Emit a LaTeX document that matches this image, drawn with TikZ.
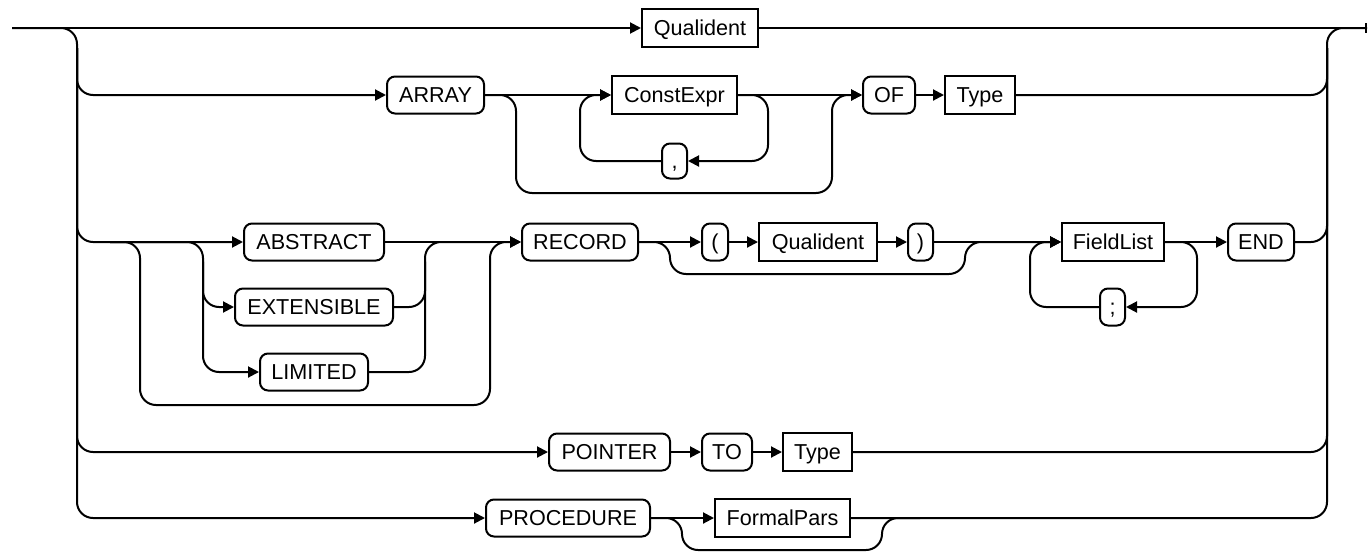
\documentclass[tikz,border=0pt]{standalone}
\usepackage{fontspec}
\setmainfont{Liberation Sans}
\usetikzlibrary{arrows.meta, positioning}

\begin{document}
\begin{tikzpicture}[
        x=0.5pt, y=-0.5pt,
        line width=1pt,
        keyword/.style={rectangle, rounded corners=4pt, draw=black, minimum height=18.5pt, inner sep=0pt, text height=7.7pt, text depth=0pt, font=\fontsize{10.8pt}{12pt}\selectfont},
        nonterm/.style={rectangle, draw=black, minimum height=19pt, inner sep=0pt, text height=7.7pt, text depth=0pt, font=\fontsize{10.8pt}{12pt}\selectfont},
        rail/.style={rounded corners=8pt},
        arrow/.style={rail, -{Triangle[length=5.5pt,width=5.5pt]}}
    ]
        \useasboundingbox (0,0) rectangle (1369,552);

        % Rails
        \coordinate (start) at (12,28);
        \coordinate (finish) at (1367,28);
        \coordinate (lrail) at (77,28);
        \coordinate (rrail) at (1327,28);

        % Row 0
        \node (qual0) [nonterm, minimum width=58pt] at (700,28) {Qualident};

        % Row 1
        \node (array) [keyword, minimum width=48.5pt] at (435.5,95) {ARRAY};
        \node (constexpr) [nonterm, minimum width=62.5pt] at (674.5,95) {ConstExpr};
        \node (comma) [keyword, minimum width=12.5pt, minimum height=17.5pt] at (674.5,161) {,};
        \node (of) [keyword, minimum width=26pt] at (889,95) {OF};
        \node (type1) [nonterm, minimum width=35pt] at (980,95) {Type};

        % Row 2
        \node (abstract) [keyword, minimum width=70pt] at (314,242) {ABSTRACT};
        \node (extensible) [keyword, minimum width=79pt] at (314,307) {EXTENSIBLE};
        \node (limited) [keyword, minimum width=54pt] at (314,372) {LIMITED};
        \node (record) [keyword, minimum width=58pt] at (580,242) {RECORD};
        \node (lparen) [keyword, minimum width=13pt] at (715,242) {(};
        \node (qual2) [nonterm, minimum width=59pt] at (818,242) {Qualident};
        \node (rparen) [keyword, minimum width=12.5pt] at (920.5,242) {)};
        \node (fieldlist) [nonterm, minimum width=51pt] at (1113,242) {FieldList};
        \node (semi) [keyword, minimum width=12.5pt] at (1112.5,307) {;};
        \node (endkw) [keyword, minimum width=33pt] at (1261,242) {END};

        % Row 3
        \node (pointer) [keyword, minimum width=60.5pt] at (609.5,452) {POINTER};
        \node (tokw) [keyword, minimum width=25pt] at (727,452) {TO};
        \node (type3) [nonterm, minimum width=34.5pt] at (817.5,452) {Type};

        % Row 4
        \node (procedure) [keyword, minimum width=82pt] at (568,518) {PROCEDURE};
        \node (formalpars) [nonterm, minimum width=67.5pt] at (782.5,518) {FormalPars};

        % Main line and left rail
        \draw [arrow] (start) -- (qual0.west);
        \draw [-{Bar[width=5pt]}] (qual0.east) -- (finish);
        \draw [arrow] (start) -| (lrail |- procedure.west) -- (procedure.west);
        \draw [arrow] (lrail |- qual0.south) |- (array.west);
        \draw [arrow] (lrail |- qual0.south) |- (abstract.west);
        \draw [arrow] (lrail |- qual0.south) |- (pointer.west);

        % Right rail
        \draw [rail] (formalpars.east) -| (rrail) -- (finish);
        \draw [rail] (type1.east) -| (rrail |- qual0.south);
        \draw [rail] (endkw.east) -| (rrail |- qual0.south);
        \draw [rail] (type3.east) -| (rrail |- qual0.south);

        % ARRAY row
        \coordinate (arrl) at (516,193);
        \coordinate (arrr) at (832,193);
        \coordinate (cxl) at (580,161);
        \coordinate (cxr) at (768,161);
        \draw [arrow] (array.east) -- (constexpr.west);
        \draw [arrow] (array.east) -| (arrl) -- (arrr) |- (of.west);
        \draw [arrow] (constexpr.east) -| (cxr) -- (comma.east);
        \draw [arrow] (comma.west) -- (cxl) |- (constexpr.west);
        \draw [arrow] (constexpr.east) -- (of.west);
        \draw [arrow] (of.east) -- (type1.west);

        % RECORD row
        \coordinate (absplit) at (110,242);
        \coordinate (insplit) at (203,242);
        \coordinate (inmerge) at (425,242);
        \coordinate (outl) at (140,405);
        \coordinate (outr) at (490,405);
        \draw [arrow] (absplit) -| (outl) -- (outr) |- (record.west);
        \draw [arrow] (absplit) -| (insplit |- limited.west) -- (limited.west);
        \draw [arrow] (insplit |- abstract.south) |- (extensible.west);
        \draw [rail] (limited.east) -| (inmerge) -- (outr |- inmerge);
        \draw [rail] (extensible.east) -| (inmerge |- abstract.south);
        \draw [arrow] (abstract.east) -- (record.west);

        \coordinate (recl) at (670,274);
        \coordinate (recr) at (965,274);
        \draw [arrow] (record.east) -| (recl) -- (recr) |- (fieldlist.west);
        \draw [arrow] (record.east) -- (lparen.west);
        \draw [arrow] (lparen.east) -- (qual2.west);
        \draw [arrow] (qual2.east) -- (rparen.west);
        \draw [arrow] (rparen.east) -- (fieldlist.west);

        \coordinate (fll) at (1030,307);
        \coordinate (flr) at (1197,307);
        \draw [arrow] (fieldlist.east) -| (flr) -- (semi.east);
        \draw [arrow] (semi.west) -- (fll) |- (fieldlist.west);
        \draw [arrow] (fieldlist.east) -- (endkw.west);

        % POINTER row
        \draw [arrow] (pointer.east) -- (tokw.west);
        \draw [arrow] (tokw.east) -- (type3.west);

        % PROCEDURE row
        \coordinate (procl) at (682,550);
        \coordinate (procr) at (882,550);
        \coordinate (procjoin) at (920,518);
        \draw [arrow] (procedure.east) -- (formalpars.west);
        \draw [rail] (procedure.east) -| (procl) -- (procr) |- (procjoin);

    \end{tikzpicture}
\end{document}
